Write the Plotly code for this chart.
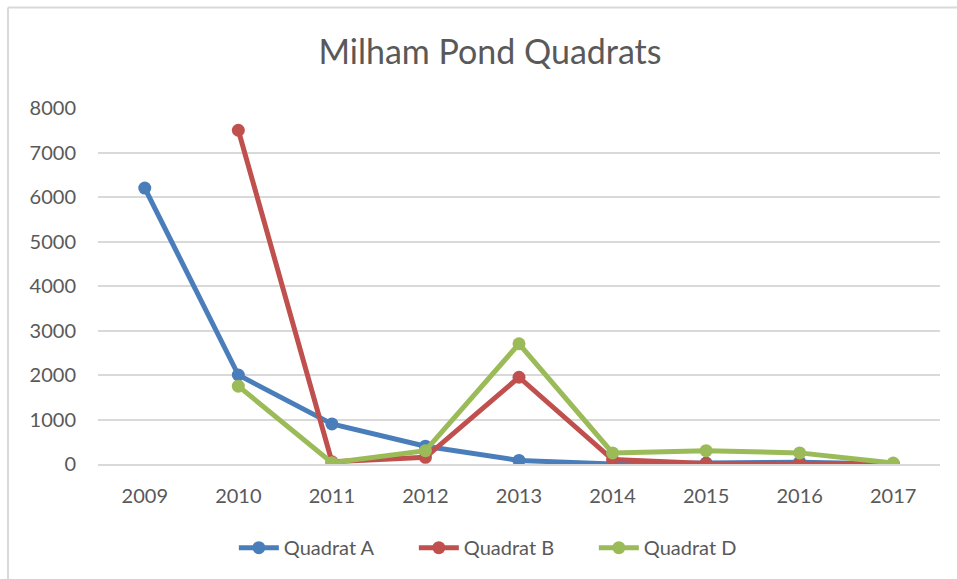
import plotly.graph_objects as go

years = ["2009", "2010", "2011", "2012", "2013", "2014", "2015", "2016", "2017"]
quadrat_a = [6200, 2000, 900, 400, 80, 0, 20, 40, 0]
quadrat_b = [None, 7500, 50, 150, 1950, 100, 10, 10, 0]
quadrat_d = [None, 1750, 30, 300, 2700, 250, 300, 250, 20]
y_ticks = [0, 1000, 2000, 3000, 4000, 5000, 6000, 7000, 8000]

series = [
    ("Quadrat A", quadrat_a, "#4A7EBB"),
    ("Quadrat B", quadrat_b, "#C0504D"),
    ("Quadrat D", quadrat_d, "#9BBB59"),
]

fig = go.Figure()
for name, vals, color in series:
    fig.add_trace(go.Scatter(
        x=years, y=vals, name=name, mode="lines+markers",
        line=dict(color=color, width=5),
        marker=dict(color=color, size=13),
        connectgaps=False,
    ))

grid = "#D9D9D9"
text_color = "#595959"
font = "Lato, 'Open Sans', sans-serif"

fig.update_layout(
    width=957, height=579,
    margin=dict(l=98, r=17, t=108, b=115),
    paper_bgcolor="white", plot_bgcolor="white",
    font=dict(family=font, color=text_color, size=20),
    title=dict(text="Milham Pond Quadrats", x=0.512, xanchor="center",
               y=0.91, yanchor="middle",
               font=dict(family=font, size=34, color=text_color)),
    xaxis=dict(type="category", range=[-0.5, 8.5], showgrid=False,
               showline=True, linecolor=grid, linewidth=2, ticks="",
               ticklabelstandoff=13,
               tickfont=dict(size=20, color=text_color)),
    yaxis=dict(range=[0, 8000], tickvals=y_ticks, showgrid=True,
               gridcolor=grid, gridwidth=2, zeroline=False, showline=False,
               ticks="", ticklabelstandoff=21,
               tickfont=dict(size=20, color=text_color)),
    legend=dict(orientation="h", x=0.482, xanchor="center", y=-0.235,
                yanchor="middle", font=dict(size=20, color=text_color),
                itemwidth=40, entrywidth=125, entrywidthmode="pixels"),
    showlegend=True,
)

# light frame along the left and top edges of the chart area
fig.add_shape(type="line", xref="paper", yref="paper",
              x0=-0.1069, x1=1.2, y0=1.282, y1=1.282,
              line=dict(color="#D9D9D9", width=2))
fig.add_shape(type="line", xref="paper", yref="paper",
              x0=-0.1069, x1=-0.1069, y0=1.282, y1=-0.4,
              line=dict(color="#D9D9D9", width=2))

fig.write_html("out.html")
